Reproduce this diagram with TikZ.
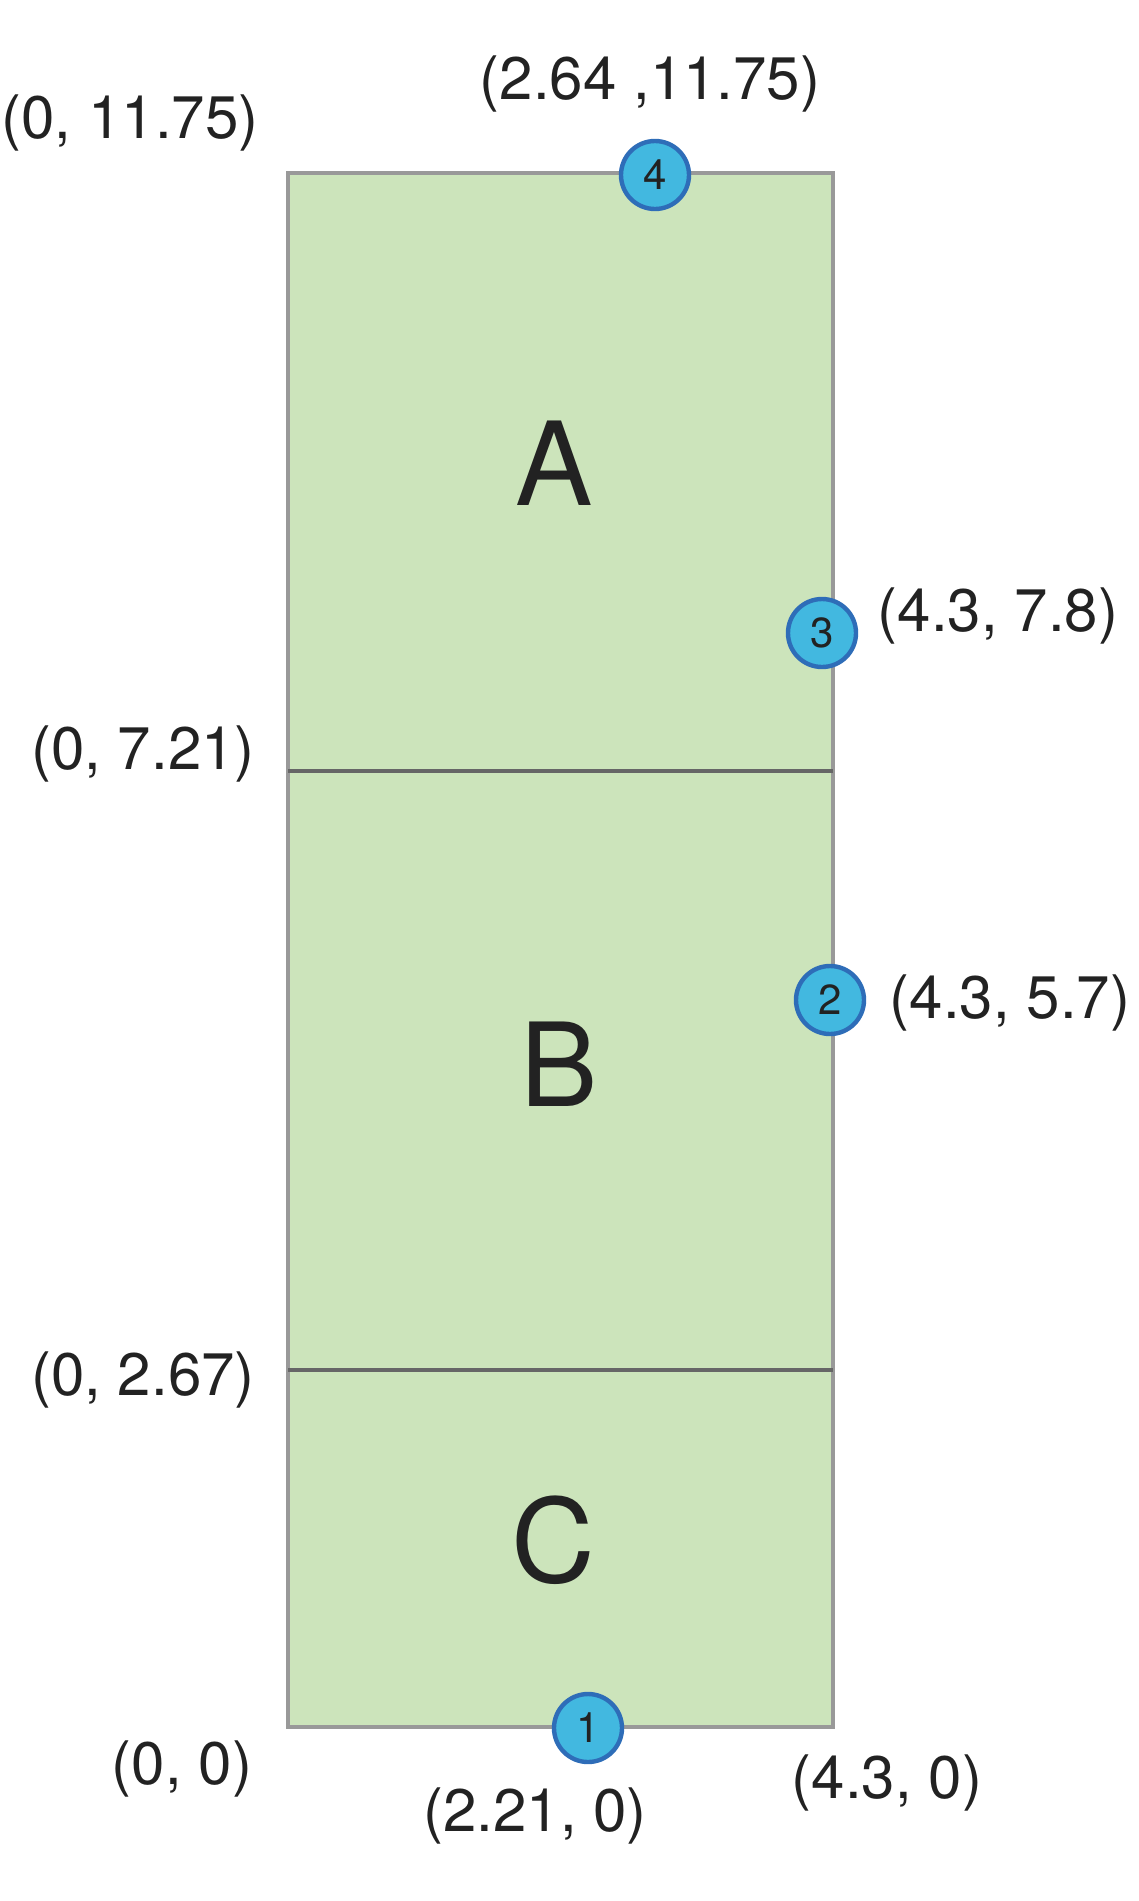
\documentclass[tikz,border=0pt]{standalone}
\usepackage{fontspec}
\setmainfont{TeX Gyre Heros}
\definecolor{zonegreen}{HTML}{CCE4BB}
\definecolor{bordergray}{HTML}{999999}
\definecolor{divgray}{HTML}{666666}
\definecolor{markfill}{HTML}{42B8E0}
\definecolor{markedge}{HTML}{2E6DB8}
\definecolor{inkcol}{HTML}{222222}
\begin{document}
\begin{tikzpicture}[x=0.5pt,y=-0.5pt,
  zone/.style={fill=zonegreen,draw=bordergray,line width=2.2pt},
  divider/.style={draw=divgray,line width=1.6pt},
  marker/.style={circle,fill=markfill,draw=markedge,line width=2.2pt,minimum size=34pt,inner sep=0pt,text=inkcol,font=\fontsize{21}{24}\selectfont},
  coordlabel/.style={text=inkcol,inner sep=0pt,font=\fontsize{30}{35}\selectfont},
  zonelabel/.style={text=inkcol,inner sep=0pt,font=\fontsize{58}{66}\selectfont}]
\useasboundingbox (0,0) rectangle (1139,1901);
\fill[white] (0,0) rectangle (1139,1901);
\draw[zone] (288,173) rectangle (833,1727);
\draw[divider] (288,771) -- (833,771);
\draw[divider] (288,1370) -- (833,1370);
\node[zonelabel] (A) at (554,463) {A};
\node[zonelabel] (B) at (559,1064) {B};
\node[zonelabel] (C) at (553,1540) {C};
\node[marker] (p4) at (655,175) {4};
\node[marker] (p3) at (822,633) {3};
\node[marker] (p2) at (830,1000) {2};
\node[marker] (p1) at (588,1728) {1};
\node[coordlabel] (l0a) at (130,123) {(0, 11.75)};
\node[coordlabel] (l4) at (650,84) {(2.64 ,11.75)};
\node[coordlabel] (l3) at (998,616) {(4.3, 7.8)};
\node[coordlabel] (l0b) at (143,754) {(0, 7.21)};
\node[coordlabel] (l2) at (1010,1003) {(4.3, 5.7)};
\node[coordlabel] (l0c) at (143,1380) {(0, 2.67)};
\node[coordlabel] (l0d) at (182,1769) {(0, 0)};
\node[coordlabel] (l1) at (535,1816) {(2.21, 0)};
\node[coordlabel] (l5) at (887,1783) {(4.3, 0)};
\end{tikzpicture}
\end{document}
